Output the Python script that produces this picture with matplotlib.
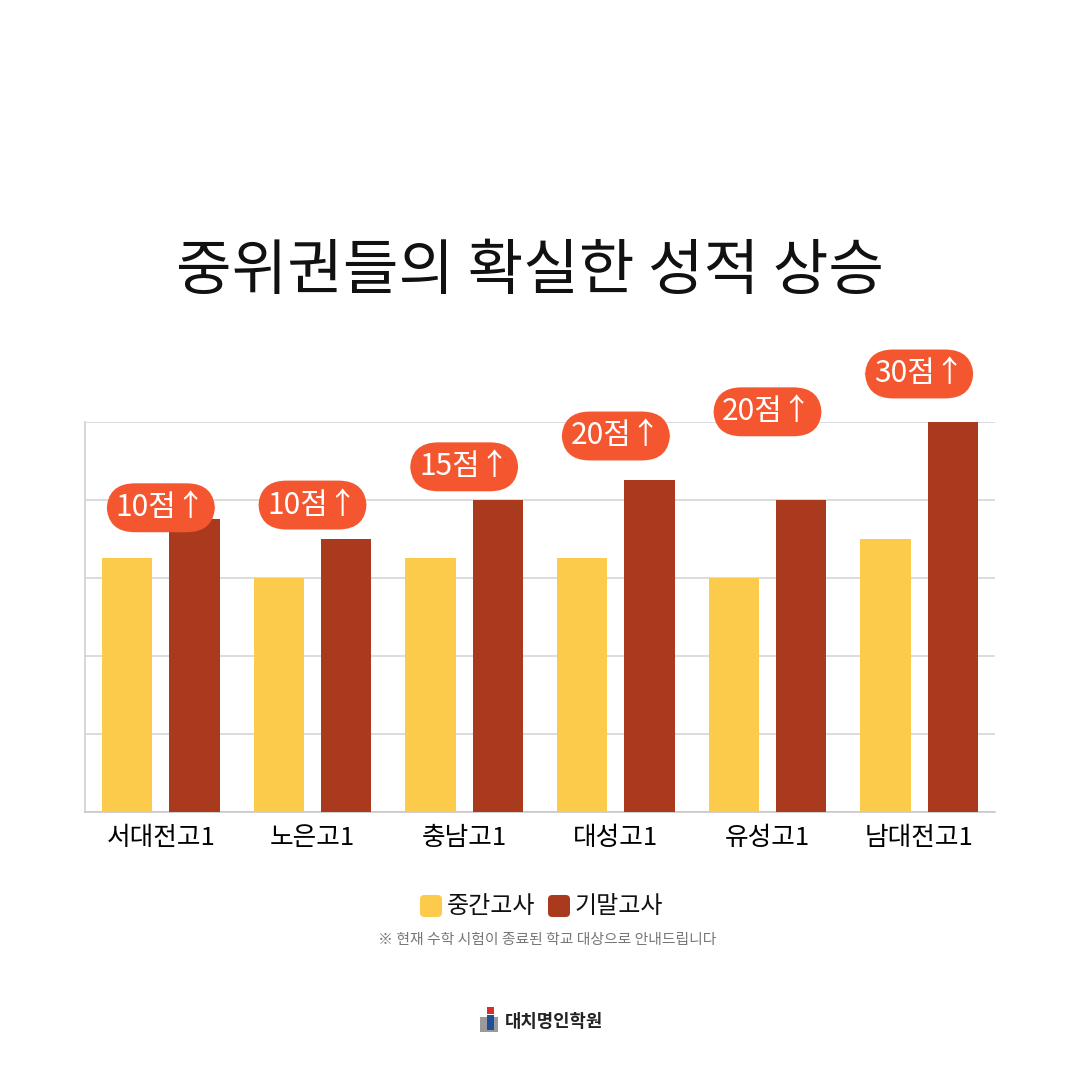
import numpy as np
import matplotlib
matplotlib.use("Agg")
import matplotlib.pyplot as plt
from matplotlib.patches import Rectangle, FancyBboxPatch

plt.rcParams['font.family'] = ['Noto Sans CJK KR', 'DejaVu Sans']

# chart data
schools = ["서대전고1", "노은고1", "충남고1", "대성고1", "유성고1", "남대전고1"]
midterm = [65, 60, 65, 65, 60, 70]
final = [75, 70, 80, 85, 80, 100]
gain_labels = ["10점↑", "10점↑", "15점↑", "20점↑", "20점↑", "30점↑"]
label_heights = [78, 78.7, 88.5, 96.4, 102.6, 112.3]
legend_names = ["중간고사", "기말고사"]

yellow = "#FDCB4B"
red = "#A93A1E"
pill = "#F4572F"

fig = plt.figure(figsize=(10.8, 10.8), dpi=100)
ax = fig.add_axes([0.0787, 0.2481, 0.8426, 0.3612])

x = np.arange(len(schools))
w = 0.33
ax.bar(x - 0.222, midterm, width=w, color=yellow, zorder=3, label=legend_names[0])
ax.bar(x + 0.222, final, width=w, color=red, zorder=3, label=legend_names[1])

ax.set_xlim(-0.5, len(schools) - 0.5)
ax.set_ylim(0, 100)
ax.set_yticks([0, 20, 40, 60, 80, 100])
ax.set_yticklabels([])
ax.tick_params(axis='y', length=0)
ax.tick_params(axis='x', length=0, pad=9, labelsize=18.5)
ax.set_xticks(x)
ax.set_xticklabels(schools)
ax.grid(axis='y', color="#D6D6D6", linewidth=1.2, zorder=0)
for s in ['top', 'right']:
    ax.spines[s].set_visible(False)
ax.spines['left'].set_color("#D0D0D0")
ax.spines['bottom'].set_color("#C8C8C8")
ax.spines['left'].set_linewidth(1.2)
ax.spines['bottom'].set_linewidth(1.2)

# score-gain pills
for xi, yi, lab in zip(x, label_heights, gain_labels):
    ax.text(xi, yi, lab, ha='center', va='center', fontsize=21.5, color='white',
            zorder=5, clip_on=False,
            bbox=dict(boxstyle="round,pad=0.3,rounding_size=0.95", fc=pill, ec='none'))

# title
fig.text(0.491, 0.748, "중위권들의 확실한 성적 상승", ha='center', va='center',
         fontsize=43.5, color="#111111")

# legend
leg_y = 1 - 906 / 1080
for lx, col, name in [(0.3889, yellow, legend_names[0]), (0.5074, red, legend_names[1])]:
    fig.patches.append(FancyBboxPatch((lx, leg_y - 0.0102), 0.0204, 0.0204,
                                      boxstyle="round,pad=0,rounding_size=0.004",
                                      transform=fig.transFigure, fc=col, ec='none'))
    fig.text(lx + 0.0250, leg_y, name, ha='left', va='center', fontsize=17.3, color="#111111")

fig.text(0.5065, 1 - 940 / 1080, "※ 현재 수학 시험이 종료된 학교 대상으로 안내드립니다",
         ha='center', va='center', fontsize=10.7, color="#777777")

# logo
fig.patches.append(Rectangle((0.4444, 0.0444), 0.0167, 0.0139, transform=fig.transFigure,
                             fc="#9A9A9A", ec='none'))
fig.patches.append(Rectangle((0.4509, 0.0463), 0.0065, 0.0139, transform=fig.transFigure,
                             fc="#1F4E9A", ec='none'))
fig.patches.append(Rectangle((0.4509, 0.0611), 0.0065, 0.0065, transform=fig.transFigure,
                             fc="#D32F2F", ec='none'))
fig.text(0.4676, 1 - 1022 / 1080, "대치명인학원", ha='left', va='center',
         fontsize=12.8, fontweight='bold', color="#222222")

fig.savefig("out.png", dpi=100, facecolor='white')
